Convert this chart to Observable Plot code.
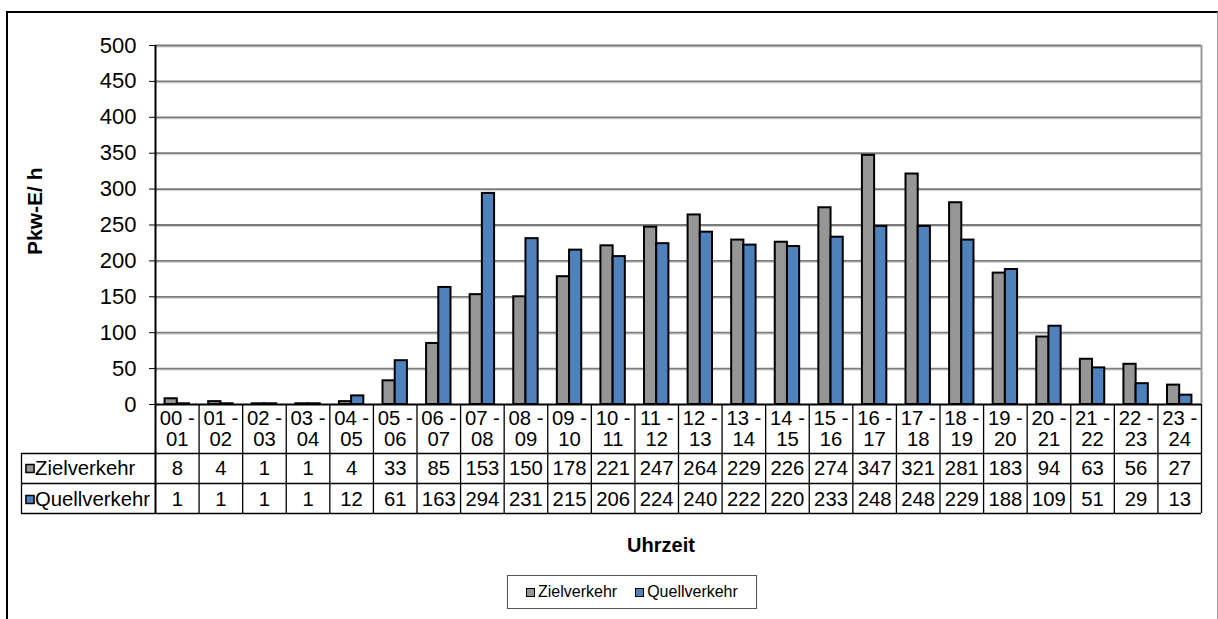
<!DOCTYPE html>
<html>
<head>
<meta charset="utf-8">
<script src="https://cdn.jsdelivr.net/npm/d3@7"></script>
<script src="https://cdn.jsdelivr.net/npm/@observablehq/plot@0.6"></script>
<style>
  html, body { margin: 0; padding: 0; background: #fff; overflow: hidden; }
  #wrap { position: relative; width: 1218px; height: 619px; overflow: hidden;
          font-family: Arial, "Liberation Sans", sans-serif; color: #000; }
  #frame { position: absolute; left: 6px; top: 11px; width: 1212px; height: 660px;
           border-left: 2px solid #000; border-top: 2px solid #000; border-right: 1px solid #a0a0a0;
           box-sizing: border-box; }
  #chart { position: absolute; left: 0; top: 0; }
  #xtitle { position: absolute; left: 561px; width: 200px; top: 535px; text-align: center;
            font-weight: bold; font-size: 20px; line-height: 20px; }
  #legend { position: absolute; left: 507px; top: 575px; width: 250px; height: 34px;
            border: 1px solid #555; box-sizing: border-box; display: flex; align-items: center;
            padding-left: 18px; font-size: 16px; background: #fff; }
  #legend .item { display: flex; align-items: center; margin-right: 18px; }
  #legend .sw { width: 7px; height: 7px; border: 1.5px solid #000; margin-right: 3px; }
</style>
</head>
<body>
<div id="wrap">
  <div id="frame"></div>
  <div id="chart"></div>
  <div id="xtitle"></div>
  <div id="legend"></div>
</div>
<script>
// ---- data ----
const hours = ["00 - 01","01 - 02","02 - 03","03 - 04","04 - 05","05 - 06","06 - 07","07 - 08",
               "08 - 09","09 - 10","10 - 11","11 - 12","12 - 13","13 - 14","14 - 15","15 - 16",
               "16 - 17","17 - 18","18 - 19","19 - 20","20 - 21","21 - 22","22 - 23","23 - 24"];
const zielverkehr  = [8,4,1,1,4,33,85,153,150,178,221,247,264,229,226,274,347,321,281,183,94,63,56,27];
const quellverkehr = [1,1,1,1,12,61,163,294,231,215,206,224,240,222,220,233,248,248,229,188,109,51,29,13];
const seriesNames  = ["Zielverkehr","Quellverkehr"];
const seriesColors = ["#969696","#4f81bd"];
const yTicks = [0,50,100,150,200,250,300,350,400,450,500];
const yLabel = "Pkw-E/ h";
const xLabel = "Uhrzeit";

// ---- table of rows ----
const seriesValues = [zielverkehr, quellverkehr];
const rows = hours.flatMap((h, i) => seriesNames.map((s, k) => ({i, hour: h, series: s, k, value: seriesValues[k][i]})));

// ---- layout ----
const W = 1218, H = 619, mL = 155, mR = 17, mT = 45, mB = 215;
const n = hours.length;
const pxPerX = (W - mL - mR) / n;
const pxPerY = (H - mT - mB) / 500;
const toX = px => px / pxPerX;        // pixel distance -> x units
const below = px => -px / pxPerY;     // pixel distance below zero line -> y units
const headerB = below(49), row1B = below(79), row2B = below(109);
const labelLeft = -toX(134);
const bw = 0.28;
const tfs = 20.3;
const font = 'Arial, "Liberation Sans", sans-serif';

const chart = Plot.plot({
  width: W, height: H,
  marginLeft: mL, marginRight: mR, marginTop: mT, marginBottom: mB,
  style: {background: "none", fontFamily: font, color: "#000", overflow: "visible"},
  x: {type: "linear", domain: [0, n], axis: null},
  y: {domain: [0, 500], axis: null},
  color: {domain: seriesNames, range: seriesColors},
  marks: [
    // gridlines
    Plot.ruleY(yTicks.filter(t => t > 0), {x1: 0, x2: n, stroke: "#d0d0d0", strokeWidth: 1, dy: 1.5}),
    Plot.ruleY(yTicks.filter(t => t > 0), {x1: 0, x2: n, stroke: "#7a7a7a", strokeWidth: 1.8}),
    // plot area right border
    Plot.ruleX([n], {y1: 0, y2: 500, stroke: "#9a9a9a", strokeWidth: 2}),
    // bars
    Plot.rectY(rows, {
      x1: d => d.i + (d.k === 0 ? 0.5 - bw : 0.5),
      x2: d => d.i + (d.k === 0 ? 0.5 : 0.5 + bw),
      y1: 0, y2: "value", fill: "series", stroke: "#000", strokeWidth: 2
    }),
    // y axis
    Plot.axisY(yTicks, {tickSize: 6, tickPadding: 13, fontSize: 22, label: null, stroke: "#000"}),
    Plot.text([yLabel], {frameAnchor: "left", dx: -120, dy: 30, rotate: -90, fontWeight: "bold", fontSize: 21, text: d => d}),
    // axis lines
    Plot.ruleX([0], {y1: row2B, y2: 500, stroke: "#000", strokeWidth: 2}),
    Plot.ruleY([0], {x1: 0, x2: n, stroke: "#000", strokeWidth: 2}),
    // data table grid
    Plot.ruleX(d3.range(1, n + 1), {y1: row2B, y2: 0, stroke: "#000", strokeWidth: 1.3}),
    Plot.ruleY([headerB, row1B, row2B], {x1: labelLeft, x2: n, stroke: "#000", strokeWidth: 1.3}),
    Plot.ruleX([labelLeft], {y1: row2B, y2: headerB, stroke: "#000", strokeWidth: 1.3}),
    // header texts
    Plot.text(hours, {x: (d, i) => i + 0.5, y: below(14), text: d => d.split(" - ")[0] + " -", fontSize: tfs}),
    Plot.text(hours, {x: (d, i) => i + 0.5, y: below(35), text: d => d.split(" - ")[1], fontSize: tfs}),
    // values
    Plot.text(rows, {x: d => d.i + 0.5, y: d => d.k === 0 ? below(64) : below(95), text: d => String(d.value), fontSize: tfs}),
    // row labels with swatches
    Plot.dot(seriesNames, {x: labelLeft + toX(8.5), y: (d, i) => i === 0 ? below(64) : below(95), symbol: "square", r: 4.6, fill: d => d, stroke: "#000", strokeWidth: 1.5}),
    Plot.text(seriesNames, {x: labelLeft + toX(13.5), y: (d, i) => i === 0 ? below(64) : below(95), text: d => d, textAnchor: "start", fontSize: tfs})
  ]
});
document.getElementById("chart").appendChild(chart);

document.getElementById("xtitle").textContent = xLabel;
const legend = document.getElementById("legend");
seriesNames.forEach((s, k) => {
  const item = document.createElement("div");
  item.className = "item";
  const sw = document.createElement("div");
  sw.className = "sw";
  sw.style.background = seriesColors[k];
  const t = document.createElement("span");
  t.textContent = s;
  item.appendChild(sw); item.appendChild(t);
  legend.appendChild(item);
});
</script>
</body>
</html>
